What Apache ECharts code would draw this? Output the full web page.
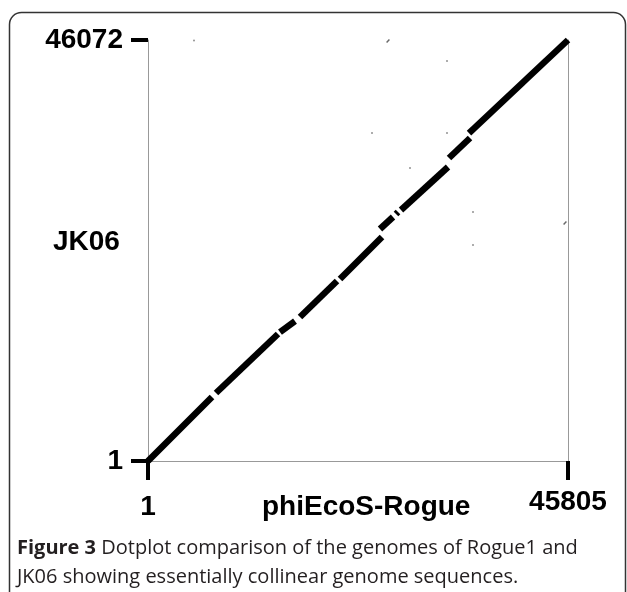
<!DOCTYPE html>
<html>
<head>
<meta charset="utf-8">
<script src="https://cdn.jsdelivr.net/npm/echarts@6/dist/echarts.min.js"></script>
<style>
  html, body { margin: 0; padding: 0; background: #fff; }
  #chart-container { width: 627px; height: 592px; }
</style>
</head>
<body>
<div id="chart-container"></div>
<script>
var xMax = 45805;
var yMax = 46072;
var xTicks = [1, 45805];
var yTicks = [1, 46072];

// collinear match segments [x1, y1, x2, y2] (Rogue1 bp, JK06 bp)
var segments = [
  [1, 1, 6981, 7004],
  [7417, 7442, 14179, 13898],
  [14397, 14117, 16033, 15321],
  [16578, 15759, 20613, 19698],
  [20941, 19917, 25521, 24513],
  [25303, 25389, 26721, 26702],
  [27048, 27030, 27266, 27249],
  [27594, 27468, 32719, 32173],
  [32828, 33159, 35120, 35347],
  [35010, 35894, 45805, 46072]
];

// short spurious hits
var dots = [
  [5018, 46030], [32610, 43773], [24430, 35894], [32610, 35894],
  [28575, 32064], [35446, 27249], [35446, 23638]
];
var dashes = [[26175, 45962], [45479, 26045]];

var dom = document.getElementById('chart-container');
var myChart = echarts.init(dom, null, { renderer: 'canvas' });

var labelFont = 'Liberation Sans, Arial, sans-serif';

var series = segments.map(function (s) {
  return {
    type: 'line',
    data: [[s[0], s[1]], [s[2], s[3]]],
    symbol: 'none',
    silent: true,
    lineStyle: { color: '#000', width: 6.5, cap: 'butt' },
    z: 3
  };
});
series.push({
  type: 'scatter',
  data: dots,
  symbolSize: 2,
  itemStyle: { color: '#777' },
  clip: false
});
series.push({
  type: 'scatter',
  data: dashes,
  symbol: 'rect',
  symbolSize: [4, 1.5],
  symbolRotate: 45,
  itemStyle: { color: '#444' },
  clip: false
});

var option = {
  backgroundColor: '#fff',
  animation: false,
  grid: { left: 148, right: 59, top: 40, bottom: 131 },
  xAxis: {
    type: 'value',
    min: 1,
    max: xMax,
    axisLine: { show: true, lineStyle: { color: '#999', width: 1 } },
    splitLine: { show: false },
    axisTick: {
      show: true,
      customValues: xTicks,
      length: 19,
      lineStyle: { color: '#000', width: 4 }
    },
    axisLabel: {
      show: true,
      customValues: xTicks,
      margin: 27,
      formatter: function (v) {
        return v === 1 ? '{a|1}' : '{b|' + String(v) + '}';
      },
      rich: {
        a: { fontSize: 28, fontWeight: 'bold', fontFamily: labelFont, color: '#000', padding: [5, 0, 0, 0] },
        b: { fontSize: 28, fontWeight: 'bold', fontFamily: labelFont, color: '#000' }
      }
    }
  },
  yAxis: [{
    type: 'value',
    min: 1,
    max: yMax,
    axisLine: { show: true, lineStyle: { color: '#999', width: 1 } },
    splitLine: { show: false },
    axisTick: {
      show: true,
      customValues: yTicks,
      length: 17,
      lineStyle: { color: '#000', width: 4 }
    },
    axisLabel: {
      show: true,
      customValues: yTicks,
      margin: 25,
      formatter: function (v) { return String(v); },
      fontSize: 28,
      fontWeight: 'bold',
      fontFamily: labelFont,
      color: '#000'
    }
  }, {
    type: 'value',
    position: 'right',
    min: 1,
    max: yMax,
    axisLine: { show: true, lineStyle: { color: '#999', width: 1 } },
    splitLine: { show: false },
    axisTick: { show: false },
    axisLabel: { show: false }
  }],
  graphic: [
    {
      type: 'rect',
      shape: { x: 9.5, y: 12.5, width: 616, height: 640, r: 12 },
      style: { fill: 'none', stroke: '#333', lineWidth: 1.5 },
      silent: true
    },
    {
      type: 'text',
      left: 53,
      top: 228,
      style: { text: 'JK06', font: 'bold 28px ' + labelFont, fill: '#000' }
    },
    {
      type: 'text',
      left: 262,
      top: 493,
      style: { text: 'phiEcoS-Rogue', font: 'bold 28px ' + labelFont, fill: '#000' }
    },
    {
      type: 'text',
      left: 17,
      top: 534,
      style: {
        text: '{b|Figure 3} Dotplot comparison of the genomes of Rogue1 and\nJK06 showing essentially collinear genome sequences.',
        fontFamily: 'Open Sans, sans-serif',
        fontSize: 20,
        lineHeight: 29,
        fill: '#231f20',
        rich: { b: { fontWeight: 'bold', fontFamily: 'Open Sans, sans-serif', fontSize: 20, fill: '#231f20' } }
      }
    }
  ],
  series: series
};

myChart.setOption(option);
window.addEventListener('resize', myChart.resize);
</script>
</body>
</html>
